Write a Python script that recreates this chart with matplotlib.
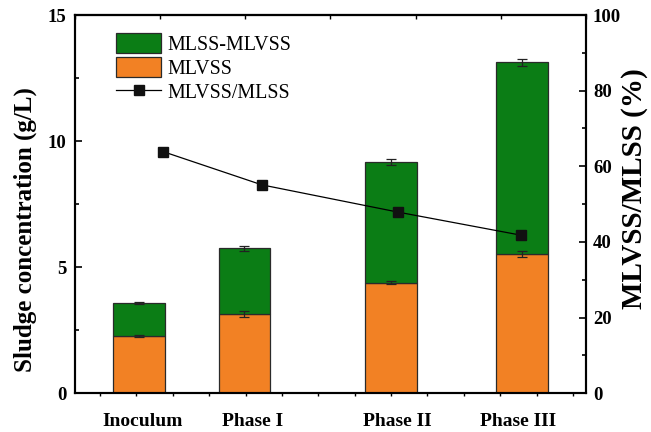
import numpy as np
import matplotlib
matplotlib.use('Agg')
import matplotlib.pyplot as plt
from matplotlib.ticker import MultipleLocator, FixedLocator, FixedFormatter, NullFormatter

plt.rcParams['font.family'] = ['Liberation Serif', 'DejaVu Serif']

# sludge data (g/L) and ratio (%)
phases = ['Inoculum', 'Phase I', 'Phase II', 'Phase III']
mlss = [3.59, 5.75, 9.16, 13.12]
mlss_err = [0.03, 0.09, 0.12, 0.14]
mlvss = [2.28, 3.16, 4.39, 5.51]
mlvss_err = [0.04, 0.12, 0.06, 0.12]
ratio = [63.9, 55.1, 47.9, 41.8]

# horizontal layout of bars, ratio points and labels
bar_x = [1.07, 3.97, 8.0, 11.6]
ratio_x = [1.73, 4.45, 8.19, 11.57]
label_x = [1.17, 4.20, 8.16, 11.49]
bar_w = 1.42

green = '#0b7d15'
orange = '#f28124'
edge = '#2a2a2a'

mlss_minus = [a - b for a, b in zip(mlss, mlvss)]

fig = plt.figure(figsize=(6.51, 4.32), dpi=100)
ax = fig.add_axes([75/651, 1 - 393.3/432, 511/651, 378.3/432])

b1 = ax.bar(bar_x, mlvss, bar_w, color=orange, edgecolor=edge, linewidth=0.9, label='MLVSS')
b2 = ax.bar(bar_x, mlss_minus, bar_w, bottom=mlvss, color=green, edgecolor=edge, linewidth=0.9,
            label='MLSS-MLVSS')
ax.errorbar(bar_x, mlvss, yerr=mlvss_err, fmt='none', ecolor='#222222', elinewidth=0.9, capsize=3.5, capthick=0.9)
ax.errorbar(bar_x, mlss, yerr=mlss_err, fmt='none', ecolor='#222222', elinewidth=0.9, capsize=3.5, capthick=0.9)

ax.set_xlim(-0.687, 13.36)
ax.set_ylim(0, 15)
ax.yaxis.set_major_locator(MultipleLocator(5))
ax.yaxis.set_minor_locator(MultipleLocator(2.5))
ax.xaxis.set_major_locator(FixedLocator(label_x))
ax.xaxis.set_major_formatter(FixedFormatter(phases))
ax.xaxis.set_minor_locator(MultipleLocator(1))
ax.tick_params(axis='x', which='major', length=0, pad=14, labelsize=14)
ax.tick_params(axis='x', which='minor', length=2.5, width=1, direction='out')
ax.tick_params(axis='y', which='major', length=5, width=1.2, direction='in', labelsize=13.5, pad=6)
ax.tick_params(axis='y', which='minor', length=3, width=1.2, direction='in')
ax.tick_params(right=False, top=False, which='both')
for lab in ax.get_xticklabels() + ax.get_yticklabels():
    lab.set_fontweight('bold')
ax.set_ylabel('Sludge concentration (g/L)', fontsize=18, fontweight='bold')
ax.yaxis.set_label_coords(-0.075, 0.434)

top = ax.secondary_xaxis('top')
top.xaxis.set_major_locator(FixedLocator(-0.687 + 2.341 * np.arange(7)))
top.xaxis.set_major_formatter(NullFormatter())
top.tick_params(direction='in', length=3, width=1)

ax2 = ax.twinx()
ln, = ax2.plot(ratio_x, ratio, '-s', color='black', linewidth=0.9, markersize=7,
               markerfacecolor='#111111', markeredgecolor='#111111', label='MLVSS/MLSS')
ax2.set_ylim(0, 100)
ax2.yaxis.set_major_locator(MultipleLocator(20))
ax2.yaxis.set_minor_locator(MultipleLocator(10))
ax2.tick_params(axis='y', which='major', length=5, width=1.2, direction='in', labelsize=13.5, pad=5)
ax2.tick_params(axis='y', which='minor', length=3, width=1.2, direction='in')
for lab in ax2.get_yticklabels():
    lab.set_fontweight('bold')
ax2.set_ylabel('MLVSS/MLSS (%)', fontsize=21, fontweight='bold')
ax2.yaxis.set_label_coords(1.068, 0.54)

for a in (ax, ax2):
    for s in a.spines.values():
        s.set_linewidth(1.5)
top.spines['top'].set_linewidth(1.5)

fig.legend([b2, b1, ln], ['MLSS-MLVSS', 'MLVSS', 'MLVSS/MLSS'],
           loc='upper left', bbox_to_anchor=(116/651, 1 - 33/432),
           frameon=False, fontsize=14.4, borderpad=0, borderaxespad=0,
           handlelength=2.25, handleheight=1.15, handletextpad=0.3, labelspacing=0.12)

fig.savefig('out.png', dpi=100)
